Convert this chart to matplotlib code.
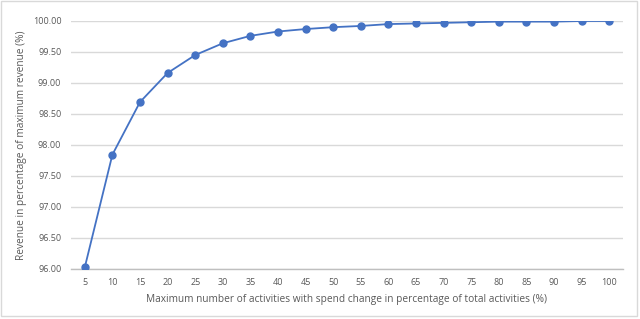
import matplotlib.pyplot as plt
import matplotlib.patches as patches

# x categories: max number of activities with spend change (% of total)
categories = [5, 10, 15, 20, 25, 30, 35, 40, 45, 50,
              55, 60, 65, 70, 75, 80, 85, 90, 95, 100]
# revenue as % of maximum revenue
revenue = [96.02, 97.84, 98.69, 99.16, 99.45, 99.64, 99.76, 99.83, 99.87, 99.90,
           99.92, 99.95, 99.96, 99.97, 99.98, 99.99, 99.99, 99.99, 100.00, 100.00]
y_ticks = [96.0, 96.5, 97.0, 97.5, 98.0, 98.5, 99.0, 99.5, 100.0]

plt.rcParams['font.family'] = ['Open Sans', 'DejaVu Sans']

fig = plt.figure(figsize=(6.4, 3.19), dpi=100)
ax = fig.add_axes([71 / 640, 1 - 268.5 / 319, 552 / 640, 247.5 / 319])

pos = list(range(len(categories)))
ax.plot(pos, revenue, color='#4472C4', linewidth=1.3, marker='o',
        markersize=5, zorder=3)

ax.set_xlim(-0.5, len(categories) - 0.5)
ax.set_ylim(96.0, 100.0)
ax.set_xticks(pos)
ax.set_xticklabels([str(c) for c in categories])
ax.set_yticks(y_ticks)
ax.set_yticklabels(['%.2f' % v for v in y_ticks])
ax.tick_params(length=0, labelsize=6.5, colors='#595959', pad=7)

ax.grid(axis='y', color='#D9D9D9', linewidth=1)
ax.set_axisbelow(True)
for s in ['top', 'right', 'left']:
    ax.spines[s].set_visible(False)
ax.spines['bottom'].set_color('#BFBFBF')
ax.spines['bottom'].set_linewidth(1)

ax.set_xlabel('Maximum number of activities with spend change in percentage of total activities (%)',
              fontsize=7.3, color='#595959', labelpad=5)
ax.set_ylabel('Revenue in percentage of maximum revenue (%)',
              fontsize=7.3, color='#595959', labelpad=4)

# chart area border
fig.patches.append(patches.Rectangle((0.002, 0.008), 0.994, 0.99, transform=fig.transFigure,
                                     fill=False, edgecolor='#D9D9D9', linewidth=1))

fig.savefig('out.png', dpi=100)
